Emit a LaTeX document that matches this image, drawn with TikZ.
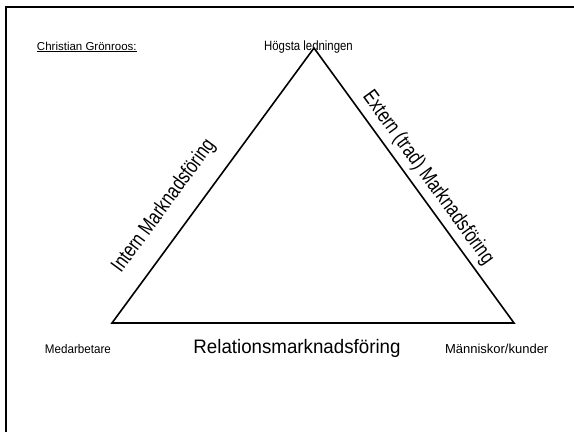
\documentclass[tikz,border=0pt]{standalone}
\usepackage{fontspec}
\usetikzlibrary{calc}
\setmainfont{Liberation Sans}
\newfontfamily\fA[FakeStretch=0.85]{Liberation Sans}
\newfontfamily\fB[FakeStretch=0.78]{Liberation Sans}
\newfontfamily\fC[FakeStretch=0.93]{Liberation Sans}
\newfontfamily\fD[FakeStretch=0.96]{Liberation Sans}
\begin{document}
\begin{tikzpicture}[x=1pt,y=-1pt,
  lbl/.style={inner sep=0pt, outer sep=0pt},
  frameline/.style={line width=2pt, black},
  triline/.style={line width=1.6pt, black, line join=miter}]
\useasboundingbox (0,0) rectangle (574,432);
% frame
\coordinate (ftr) at (574,7);
\coordinate (ftl) at (5.5,7);
\coordinate (fbl) at (5.5,432);
\draw[frameline] (ftr) -- (ftl) -- (fbl);
% triangle
\coordinate (apex) at (314,48);
\coordinate (bl) at (112,323);
\coordinate (br) at (514,323);
\draw[triline] (bl) -- (apex) -- (br) -- cycle;
% texts
\node[lbl, anchor=base west] (author) at (37,50) {\fontsize{11.5}{13}\selectfont Christian Grönroos:};
\coordinate (ul1) at ($(author.south west)+(0,1.2)$);
\coordinate (ul2) at ($(author.south east)+(0,1.2)$);
\draw[line width=0.8pt] (ul1) -- (ul2);
\node[lbl, anchor=base] (top) at (308.5,50) {\fA\fontsize{13.4}{15}\selectfont Högsta ledningen};
\node[lbl, rotate=53.7] (intern) at (164,206) {\fB\fontsize{21}{23}\selectfont Intern Marknadsföring};
\node[lbl, rotate=-54] (extern) at (428,178) {\fB\fontsize{21}{23}\selectfont Extern (trad) Marknadsföring};
\node[lbl, anchor=base west] (med) at (45,353) {\fC\fontsize{12.5}{14}\selectfont Medarbetare};
\node[lbl, anchor=base] (rel) at (297,353) {\fD\fontsize{19.5}{22}\selectfont Relationsmarknadsföring};
\node[lbl, anchor=base west] (kund) at (445,353) {\fontsize{13}{15}\selectfont Människor/kunder};
\end{tikzpicture}
\end{document}
